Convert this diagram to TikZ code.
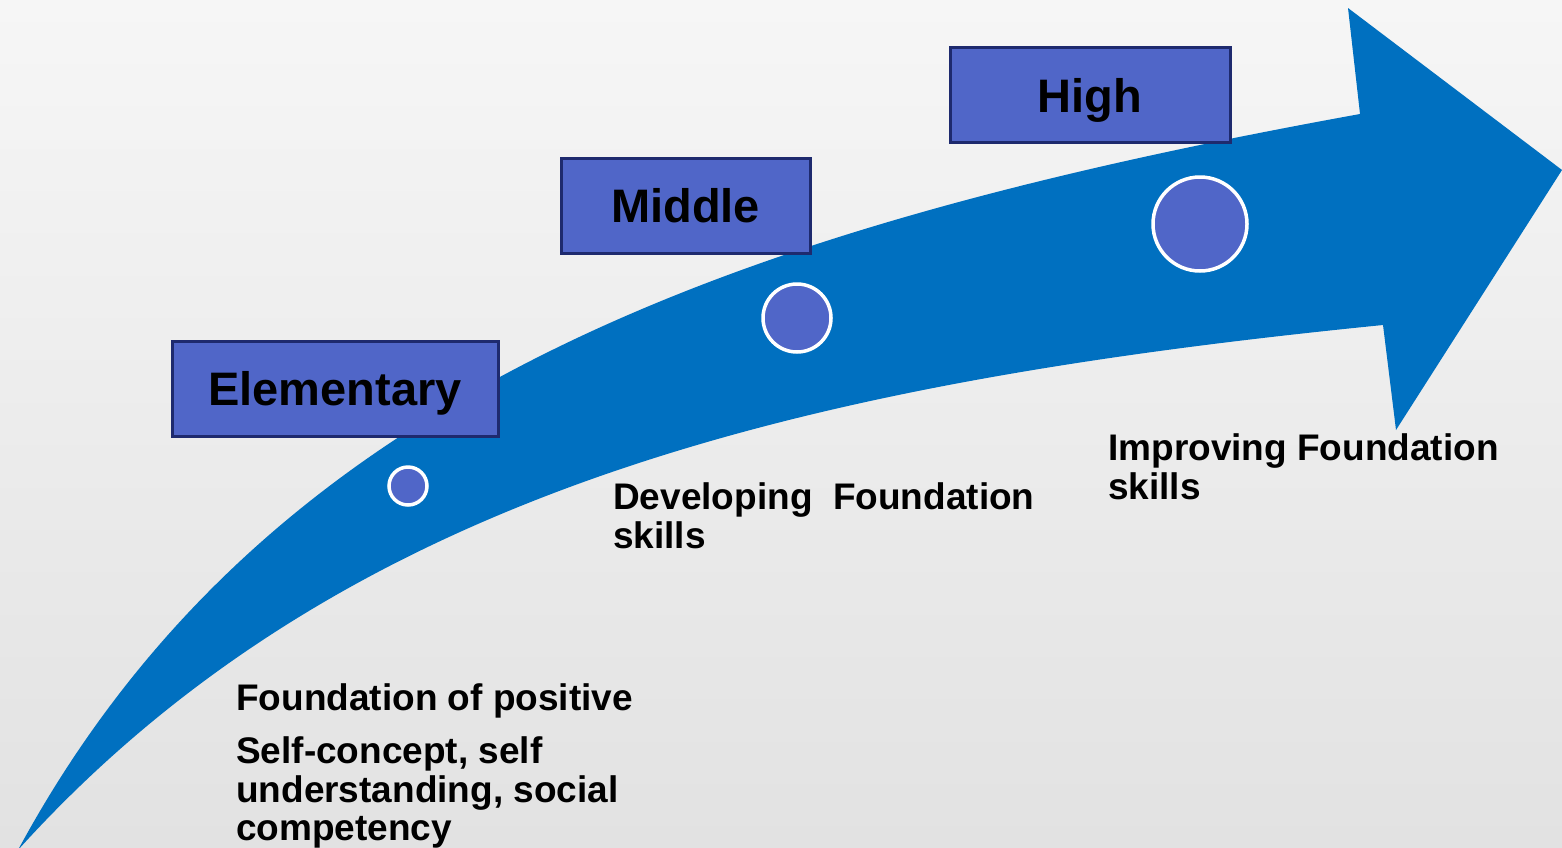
\documentclass[tikz,border=0pt]{standalone}
\usepackage{fontspec}
\setmainfont{Liberation Sans}
\definecolor{arrowblue}{RGB}{0,112,192}
\definecolor{boxfill}{RGB}{80,102,200}
\definecolor{boxline}{RGB}{30,42,110}
\definecolor{bgtop}{RGB}{246,246,246}
\definecolor{bgbot}{RGB}{226,226,226}
\tikzset{
  levelbox/.style={draw=boxline, line width=3pt, fill=boxfill, minimum height=95pt, inner sep=0pt,
    text height=34pt, text depth=0pt,
    font=\bfseries\fontsize{47}{56}\selectfont, text=black},
  dot/.style={circle, draw=white, line width=3.5pt, fill=boxfill, inner sep=0pt},
  lbl/.style={anchor=base west, inner sep=0pt, font=\bfseries\fontsize{37}{40}\selectfont, text=black}
}
\begin{document}
\begin{tikzpicture}[x=1pt,y=-1pt]
\useasboundingbox (0,0) rectangle (1562,847);
\clip (0,0) rectangle (1562,847);
\shade[top color=bgtop, bottom color=bgbot] (0,0) rectangle (1562,847);
% arrow
\fill[arrowblue] (18,850) .. controls (263,397) and (720,230) .. (1360,114)
  -- (1348,8) -- (1562,170) -- (1396,430) -- (1383,325)
  .. controls (813,382) and (346,487) .. (18,850) -- cycle;
% boxes
\node[levelbox, minimum width=326pt] (elem) at (335,388.5) {Elementary};
\node[levelbox, minimum width=249pt] (mid) at (685.5,205.5) {Middle};
\node[levelbox, minimum width=280pt] (high) at (1090,95) {High};
% circles
\node[dot, minimum size=38pt] (c1) at (408,486) {};
\node[dot, minimum size=68pt] (c2) at (797,318) {};
\node[dot, minimum size=94pt] (c3) at (1200,224) {};
% labels
\node[lbl] (l1a) at (236,710) {Foundation of positive};
\node[lbl] (l1b) at (236,763) {Self-concept, self};
\node[lbl] (l1c) at (236,802) {understanding, social};
\node[lbl] (l1d) at (236,840) {competency};
\node[lbl] (l2a) at (613,509) {Developing\ \ Foundation};
\node[lbl] (l2b) at (613,548) {skills};
\node[lbl] (l3a) at (1108,460) {Improving Foundation};
\node[lbl] (l3b) at (1108,499) {skills};
\end{tikzpicture}
\end{document}
